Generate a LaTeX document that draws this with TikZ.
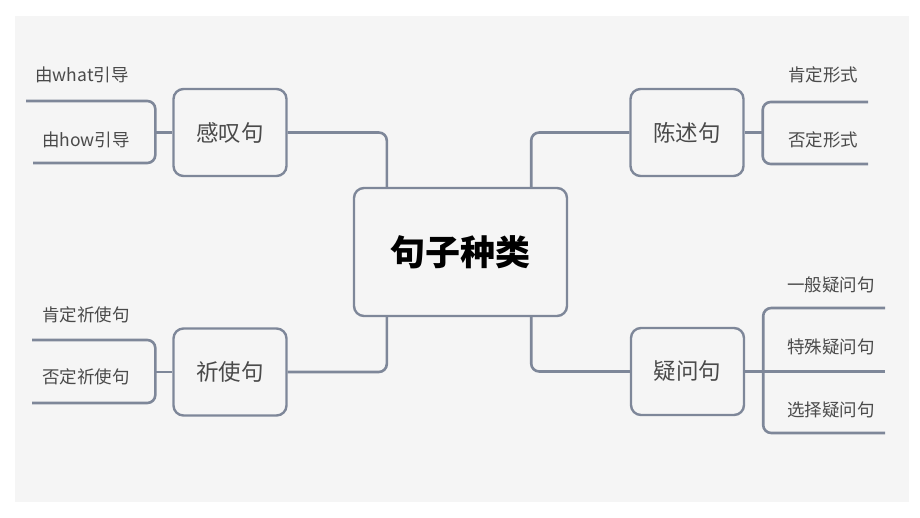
\documentclass[tikz,border=0pt]{standalone}
\usepackage{fontspec}
\setmainfont{Noto Sans CJK SC}
\definecolor{bg}{HTML}{F5F5F5}
\definecolor{ln}{HTML}{7E8799}
\definecolor{tx}{HTML}{4A4A4A}
\begin{document}
\begin{tikzpicture}[x=1pt,y=-1pt,
  conn/.style={draw=ln,line width=2.6pt,rounded corners=8pt},
  root/.style={draw=ln,line width=2.4pt,rounded corners=10pt,fill=bg,minimum width=213pt,minimum height=128pt,inner sep=0pt,font=\fontsize{35}{40}\selectfont\bfseries,text=black},
  topic/.style={draw=ln,line width=2.4pt,rounded corners=10pt,fill=bg,minimum width=113pt,minimum height=87pt,inner sep=0pt,font=\fontsize{22.5}{26}\selectfont,text=tx},
  leaf/.style={inner sep=0pt,font=\fontsize{17.5}{20}\selectfont,text=tx}]
\useasboundingbox (0,0) rectangle (920,518);
\fill[white] (0,0) rectangle (920,518);
\fill[bg] (15,16) rectangle (909,502);
% nodes
\node[root] (c) at (460.5,252) {句子种类};
\node[topic] (gt) at (230,132.5) {感叹句};
\node[topic] (cs) at (687,132.5) {陈述句};
\node[topic] (qs) at (230,372) {祈使句};
\node[topic] (yw) at (687.5,371.5) {疑问句};
% leaf labels
\node[leaf] (l1) at (82,75) {由what引导};
\node[leaf] (l2) at (86,140) {由how引导};
\node[leaf] (l3) at (86,315) {肯定祈使句};
\node[leaf] (l4) at (86,377) {否定祈使句};
\node[leaf] (r1) at (823,75) {肯定形式};
\node[leaf] (r2) at (823,140) {否定形式};
\node[leaf] (r3) at (831,285) {一般疑问句};
\node[leaf] (r4) at (831,347) {特殊疑问句};
\node[leaf] (r5) at (831,410) {选择疑问句};
% free line ends
\coordinate (e1) at (26,101);
\coordinate (e2) at (33,163);
\coordinate (e3) at (32,340);
\coordinate (e4) at (32,403);
\coordinate (f1) at (868,102);
\coordinate (f2) at (868,164);
\coordinate (f3) at (885,308);
\coordinate (f4) at (885,371.5);
\coordinate (f5) at (885,433);
% root connectors
\draw[conn] (gt.east) -| ([xshift=34pt]c.north west);
\draw[conn] (cs.west) -| ([xshift=-37pt]c.north east);
\draw[conn] (qs.east) -| ([xshift=34pt]c.south west);
\draw[conn] (yw.west) -| ([xshift=-37pt]c.south east);
% left brackets
\draw[conn] (e1) -| ([xshift=-17pt]gt.west) |- (e2);
\draw[conn] ([xshift=-17pt]gt.west) -- (gt.west);
\draw[conn] (e3) -| ([xshift=-17pt]qs.west) |- (e4);
\draw[conn] ([xshift=-17pt]qs.west) -- (qs.west);
% right brackets
\draw[conn] (f1) -| ([xshift=18pt]cs.east) |- (f2);
\draw[conn] ([xshift=18pt]cs.east) -- (cs.east);
\draw[conn] (f3) -| ([xshift=18pt]yw.east) |- (f5);
\draw[conn] (yw.east) -- (f4);
\end{tikzpicture}
\end{document}
